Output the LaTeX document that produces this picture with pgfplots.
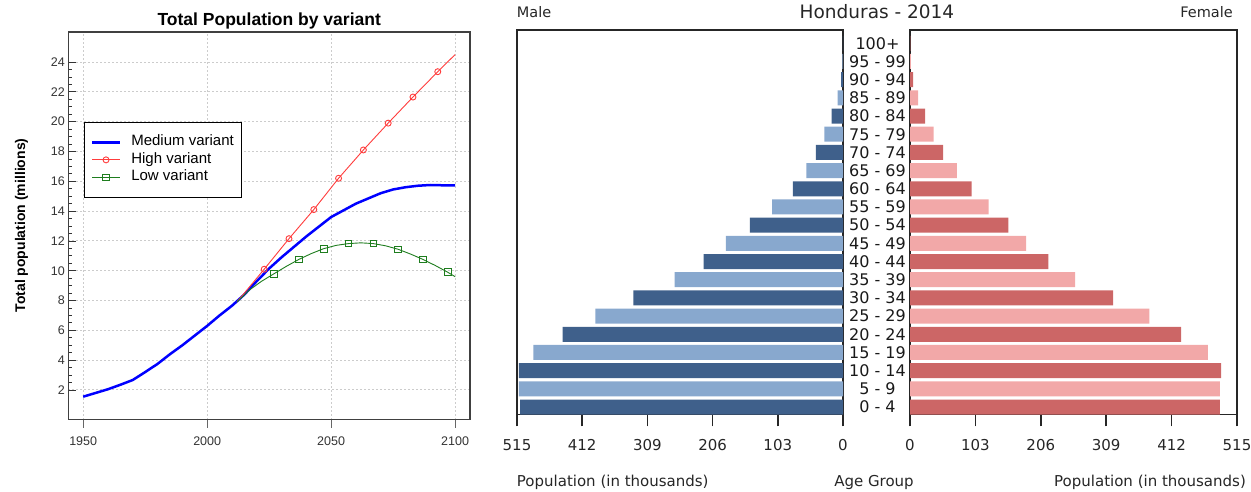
\documentclass[border=0pt]{standalone}
\usepackage{fontspec}
\setmainfont{Liberation Sans}
\newfontfamily\dv{DejaVu Sans}
\usepackage{pgfplots}
\pgfplotsset{compat=1.18}
\definecolor{mdark}{RGB}{63,96,139}
\definecolor{mlight}{RGB}{136,168,206}
\definecolor{fdark}{RGB}{204,102,102}
\definecolor{flight}{RGB}{242,168,168}
\definecolor{lowgreen}{RGB}{30,125,30}
\definecolor{highred}{RGB}{255,60,60}
\begin{document}
\begin{tikzpicture}
\path[use as bounding box] (0,0) rectangle (1251pt,492pt);

% ---------------- left chart ----------------
\begin{axis}[
  at={(68.3pt,72.2pt)}, anchor=south west, scale only axis,
  width=401.7pt, height=387.6pt,
  xmin=1944, xmax=2106, ymin=0, ymax=26,
  axis line style={black!75, line width=1.4pt},
  xtick={1950,2000,2050,2100}, ytick={2,4,...,24},
  minor y tick num=3,
  xtick pos=lower, ytick pos=left,
  x tick style={black!60, line width=1pt},
  y tick style={black!80, line width=0.8pt},
  xtick align=outside, ytick align=inside,
  major tick length=8pt, minor tick length=4pt,
  grid=major, major grid style={dash pattern=on 1.5pt off 2.5pt, black!20, line width=1pt},
  /pgf/number format/assume math mode=true,
  /pgf/number format/1000 sep={},
  tick label style={font=\fontsize{12.5}{14}\selectfont, text=black!80},
  xticklabel style={yshift=-5pt},
  legend style={at={(0.0398,0.768)}, anchor=north west, draw=black, line width=1pt,
    font=\fontsize{15}{17.5}\selectfont, inner xsep=6pt, inner ysep=11pt,
    nodes={inner ysep=0pt, text height=12pt, text depth=5.5pt},
    /tikz/every odd column/.append style={column sep=8pt}},
  legend cell align=left,
  legend image code/.code={\draw[#1, mark indices={2}] plot coordinates {(0pt,0pt) (14pt,0pt) (28pt,0pt)};},
]
\addplot[blue, line width=2.5pt] coordinates {
 (1950,1.55) (1955,1.8) (1960,2.05) (1965,2.35) (1970,2.67) (1975,3.2) (1980,3.75)
 (1985,4.4) (1990,5.0) (1995,5.65) (2000,6.3) (2005,7.0) (2010,7.65) (2015,8.4)
 (2020,9.3) (2025,10.15) (2030,10.9) (2035,11.6) (2040,12.3) (2045,12.95) (2050,13.6)
 (2055,14.05) (2060,14.5) (2065,14.85) (2070,15.2) (2075,15.45) (2080,15.6)
 (2085,15.7) (2090,15.75) (2095,15.73) (2100,15.73)};
\addlegendentry{Medium variant}
\addplot[highred, line width=0.9pt, mark=o, mark size=3pt, mark indices={2,3,4,5,6,7,8,9}] coordinates {
 (2012,7.9) (2023,10.1) (2033,12.15) (2043,14.1) (2053,16.2) (2063,18.1)
 (2073,19.9) (2083,21.65) (2093,23.35) (2100,24.5)};
\addlegendentry{High variant}
\addplot[lowgreen, line width=0.9pt, mark=square, mark size=3.3pt, mark indices={4,6,8,10,12,14,16,18}] coordinates {
 (2012,7.9) (2017,8.7) (2022,9.3) (2027,9.8) (2032,10.3) (2037,10.76) (2042,11.15)
 (2047,11.48) (2052,11.7) (2057,11.82) (2062,11.87) (2067,11.82) (2072,11.67)
 (2077,11.44) (2082,11.12) (2087,10.76) (2092,10.35) (2097,9.9) (2100,9.6)};
\addlegendentry{Low variant}
\end{axis}
\node[anchor=base, inner sep=0pt, font=\bfseries\fontsize{17.5}{20}\selectfont] at (269.2pt,466.3pt) {Total Population by variant};
\node[rotate=90, anchor=base, inner sep=0pt, font=\bfseries\fontsize{14}{16}\selectfont] at (25pt,266.5pt) {Total population (millions)};

% ---------------- male ----------------
\begin{axis}[
  at={(517pt,77.7pt)}, anchor=south west, scale only axis,
  width=326pt, height=384.3pt,
  xmin=0, xmax=515, x dir=reverse, ymin=-0.4, ymax=20.73,
  xtick={0,103,206,309,412,515}, ytick=\empty,
  xtick pos=lower, tick align=outside, major tick length=12pt,
  x tick style={black!85, line width=1.6pt},
  axis line style={black!85, line width=1.3pt},
  xbar, bar width=15pt, bar shift=0pt,
  /pgf/number format/assume math mode=true,
  xticklabel style={font=\dv\fontsize{15}{18}\selectfont, text=black!85, yshift=-10pt},
]
\addplot[fill=mdark, draw=none] coordinates {
 (510,0) (512,2) (443,4) (331,6) (220,8) (147,10) (79,12) (43,14) (18,16) (3,18) (0.3,20)};
\addplot[fill=mlight, draw=none] coordinates {
 (512,1) (489,3) (391,5) (266,7) (185,9) (112,11) (58,13) (29.5,15) (8.4,17) (1,19)};
\end{axis}

% ---------------- female ----------------
\begin{axis}[
  at={(910pt,77.7pt)}, anchor=south west, scale only axis,
  width=327pt, height=384.3pt,
  xmin=0, xmax=515, ymin=-0.4, ymax=20.73,
  xtick={0,103,206,309,412,515},
  ytick={0,1,...,20},
  yticklabels={0 - 4,5 - 9,10 - 14,15 - 19,20 - 24,25 - 29,30 - 34,35 - 39,40 - 44,45 - 49,50 - 54,55 - 59,60 - 64,65 - 69,70 - 74,75 - 79,80 - 84,85 - 89,90 - 94,95 - 99,100+},
  xtick pos=lower, ytick pos=left, tick align=outside, major tick length=12pt,
  x tick style={black!85, line width=1.6pt},
  y tick style={draw=none},
  axis line style={black!85, line width=1.3pt},
  xbar, bar width=15pt, bar shift=0pt,
  /pgf/number format/assume math mode=true,
  xticklabel style={font=\dv\fontsize{15}{18}\selectfont, text=black!85, yshift=-10pt},
  yticklabel style={font=\dv\fontsize{16}{18}\selectfont, text=black!90, anchor=center, xshift=-20.5pt},
]
\addplot[fill=fdark, draw=none] coordinates {
 (488,0) (490,2) (427,4) (320,6) (218,8) (155,10) (97,12) (52,14) (24,16) (5,18) (0.5,20)};
\addplot[fill=flight, draw=none] coordinates {
 (488,1) (469,3) (377,5) (260,7) (183,9) (124,11) (74,13) (37,15) (12.6,17) (1.5,19)};
\end{axis}

\begin{scope}[every node/.style={inner sep=0pt, text=black!85}]
\node[anchor=base west, font=\dv\fontsize{15}{18}\selectfont] at (516.7pt,5pt) {Population (in thousands)};
\node[anchor=base, font=\dv\fontsize{15}{18}\selectfont] at (874pt,5pt) {Age Group};
\node[anchor=base east, font=\dv\fontsize{15}{18}\selectfont] at (1246pt,5pt) {Population (in thousands)};
\node[anchor=base west, font=\dv\fontsize{14.5}{17}\selectfont] at (516.7pt,474.7pt) {Male};
\node[anchor=base east, font=\dv\fontsize{14.5}{17}\selectfont] at (1233pt,474.7pt) {Female};
\node[anchor=base, font=\dv\fontsize{18.5}{22}\selectfont] at (877pt,473.7pt) {Honduras - 2014};
\end{scope}
\end{tikzpicture}
\end{document}
